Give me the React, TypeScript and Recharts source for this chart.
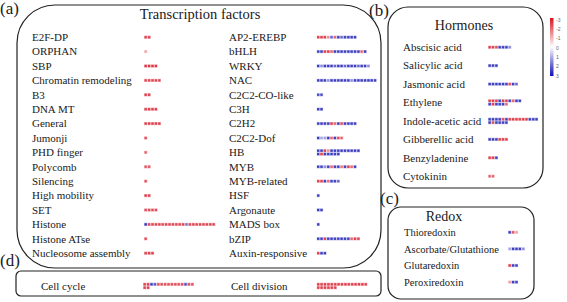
import React from 'react';
import { ScatterChart, Scatter, XAxis, YAxis } from 'recharts';

// (a) Transcription factors, left column
const tfLeftNames = [
  'E2F-DP', 'ORPHAN', 'SBP', 'Chromatin remodeling', 'B3', 'DNA MT', 'General', 'Jumonji',
  'PHD finger', 'Polycomb', 'Silencing', 'High mobility', 'SET', 'Histone', 'Histone ATse', 'Nucleosome assembly',
];
const tfLeftValues: number[][][] = [
  [[-2.5, -2.5]],
  [[-1.2]],
  [[-2.6, -2.6, -2.6, -2.6]],
  [[-2.4, -2.4, -2.4, -2.4, -2.4]],
  [[-2.5, -2.5]],
  [[-2.5, -2.5, -2.5, -2.5]],
  [[-2.5, -2.5, -2.5, -2.5, -2.5]],
  [[-2.3]],
  [[-2]],
  [[-2.2, -2.2]],
  [[-2.2]],
  [[-2.5, -2.5]],
  [[-2.3, -2.3, -2.3, -2.3]],
  [[2.6, -2.4, -2.4, -2.4, -2.4, -2.4, -2.4, -2.4, -2.4, -2.4, -2.4, -2.4, 1.8, -2.4, -2.4, -2.4, -2.4, -2.4, -2.4, -2.4, -2.4]],
  [[-2.3]],
  [[-2.5, -2.5, -2.5]],
];

// (a) Transcription factors, right column
const tfRightNames = [
  'AP2-EREBP', 'bHLH', 'WRKY', 'NAC', 'C2C2-CO-like', 'C3H', 'C2H2', 'C2C2-Dof',
  'HB', 'MYB', 'MYB-related', 'HSF', 'Argonaute', 'MADS box', 'bZIP', 'Auxin-responsive',
];
const tfRightValues: number[][][] = [
  [[-2.5, -2.5, -2.5, -1.5, 2, -2, 2.5, 2, 2.5, 2.5, 2.5, 2.5]],
  [[2.5, 2.5, -2.5, -2.5, -2, 2.5, 2.5, 2.5, 2.5, 2.5, 2.5, 2.5, 2.5, -2, 2.5]],
  [[2.5, 1.5, 2.5, 2.5, 2.5, 2, 2.5, 2.5, 2, 2.5, 2.5, 2.5, 2, 2.5, 2.5, 1.5]],
  [[2.5, 2.5, 2.5, 1.5, 2.5, 2.5, 2.5, 2.5, 2.5, 2.5, 1.5, 2.5, 2.5, 2.5, 2.5, 2.5, 2.5, 2.5]],
  [[2.3, 2.3]],
  [[2.5, 2.5]],
  [[2.5, 2.5, 2.5, 2.5, -2.5, -2, 2.5, -2.3, 2.5, 2.5, 2.5, 2.5]],
  [[2.5, 1.2, 1.2, 2.5, -2, 2.5, -2.3, -2]],
  [[2.5, 2.5, -2.5, -1.5, 2.5, 2.5, 2.5, 2.5, 2.5, 2.5, 2.5, 2.5, 2.5], [2.5, -2.5, 2.5, 2.5, 2.5, 2.5, 2.5]],
  [[2.5, 2.5, 1.5, 2.5, -2, 2.5, 2.5, -1.8, 2.5, -2.5, -2, 2.5]],
  [[-2.5, -2.5, 2.5, -2, 2.5, 2.5, 2]],
  [[2.5]],
  [[2.5, 2.5]],
  [[2.5]],
  [[2.5, 2.5, -2.5, 2.5, 2.5, 2.5, 2.5, 2.5, 2.5, 2.5, -2, -2.5, -2.5]],
  [[-2.5, 2.5, 2.5]],
];

// (b) Hormones
const hormoneNames = [
  'Abscisic acid', 'Salicylic acid', 'Jasmonic acid', 'Ethylene',
  'Indole-acetic acid', 'Gibberellic acid', 'Benzyladenine', 'Cytokinin',
];
const hormoneValues: number[][][] = [
  [[-2.5, -2.5, -2.3, 2.5, 2.5, 2.5, 1.5]],
  [[2.5, 2.5, 2.5]],
  [[2.5, 2.5, 2.5, 2.5, 2.5, 2.5, -2.3, 2.5, 2]],
  [[-2.5, -2.5, -2.5, 2.5, -2.5, -2.5, 2.5, -2, 2.5, 2.5], [2.5, -2.5, 2.5, 2.5, 2.5, -2]],
  [[2.5, 2.5, 2.5, 2.5, -2.3, 2.5, -2.5, -2.5, -2.5, -2.5, -2.5, -2.5, 2.5, 2.5, 2.5], [2.5, -2.3, 2.5, 2.5, 2.5, 2.5]],
  [[2.5, 2.5, 2.5, -2.5, -2.5, -2.5]],
  [[-2.5, -2.5, 2.5]],
  [[-2, -2]],
];

// (c) Redox
const redoxNames = ['Thioredoxin', 'Ascorbate/Glutathione', 'Glutaredoxin', 'Peroxiredoxin'];
const redoxValues: number[][][] = [
  [[2.5, -2.2, -1.3]],
  [[1.2, 2.5, 2.5, 2.5, 1.5]],
  [[-2.5, 2.5, 2.5]],
  [[-1.3, 2.5, 2.5]],
];

// (d) Cell cycle / division
const cycleNames = ['Cell cycle'];
const cycleValues: number[][][] = [
  [[-2.5, -2.5, 2.5, 2.2, -2.3, -2.3, -2.3, -2.3, -2.3, -2.3, -2.3, -2.3, 2.3, -2.3, -2.3], [-2.5, -2.5]],
];
const divisionNames = ['Cell division'];
const divisionValues: number[][][] = [
  [[-2.5, -2.5, -2.5, -2.5, -2.5, -2.5, -2.5, -2.5, -2.5, -2.5, -2.5, -2.5, -2.5, -2.5, -2.5], [-2.5, -2.5, -2.5, -2.5, -2.5, -2.5]],
];

const colorTicks = [-3, -2, -1, 0, 1, 2, 3];

const FONT = '"Liberation Serif", "Times New Roman", serif';
const INK = '#1a1a1a';
const serif = { fontFamily: FONT };

function mix(a: number[], b: number[], t: number) {
  const c = a.map((v, i) => Math.round(v + (b[i] - v) * t));
  return `rgb(${c[0]},${c[1]},${c[2]})`;
}
const RED = [214, 24, 40];
const BLUE = [24, 24, 180];
const WHITE = [255, 255, 255];

function cellColor(v: number) {
  const t = Math.min(Math.abs(v) / 3, 1);
  return mix(WHITE, v < 0 ? RED : BLUE, t);
}
function haloColor(v: number) {
  const t = Math.min(Math.abs(v) / 3, 1) * 0.45;
  return mix(WHITE, v < 0 ? RED : BLUE, t);
}

type PanelProps = {
  names: string[];
  values: number[][][];
  left: number;
  top: number;
  labelWidth: number;
  rowGap: number;
  pitch: number;
  maxCols: number;
  fontSize: number;
};

function HeatPanel({ names, values, left, top, labelWidth, rowGap, pitch, maxCols, fontSize }: PanelProps) {
  const n = names.length;
  const sub = pitch / 2 / rowGap;
  const data: { x: number; y: number; v: number }[] = [];
  values.forEach((rows, i) => {
    rows.forEach((row, r) => {
      const off = rows.length > 1 ? (r === 0 ? -sub : sub) : 0;
      row.forEach((v, j) => data.push({ x: j, y: i + off, v }));
    });
  });
  const width = labelWidth + maxCols * pitch;
  const height = n * rowGap;

  const tick = (p: any) => (
    <text x={1} y={p.y} dy="0.35em" fontSize={fontSize} fill={INK} style={serif} textAnchor="start">
      {names[p.payload.value]}
    </text>
  );

  const shape = (p: any) => {
    const v = p.payload.v;
    return (
      <g>
        <rect x={p.cx - pitch / 2 + 0.1} y={p.cy - pitch / 2 + 0.1} width={pitch - 0.2} height={pitch - 0.2} fill={haloColor(v)} />
        <rect x={p.cx - 1.1} y={p.cy - 1.1} width={2.2} height={2.2} fill={cellColor(v)} />
      </g>
    );
  };

  return (
    <div style={{ position: 'absolute', left, top, ...serif }}>
      <ScatterChart width={width} height={height} margin={{ top: 0, right: 0, bottom: 0, left: 0 }} style={serif}>
        <XAxis type="number" dataKey="x" hide domain={[-0.5, maxCols - 0.5]} allowDataOverflow />
        <YAxis
          type="number"
          dataKey="y"
          reversed
          domain={[-0.5, n - 0.5]}
          ticks={names.map((_, i) => i)}
          interval={0}
          allowDataOverflow
          width={labelWidth}
          axisLine={false}
          tickLine={false}
          tick={tick}
        />
        <Scatter data={data} shape={shape} isAnimationActive={false} />
      </ScatterChart>
    </div>
  );
}

export default function App() {
  return (
    <div style={{ position: 'relative', width: 567, height: 302, background: '#fff', overflow: 'hidden', ...serif }}>
      <style>{'body{margin:0}'}</style>
      <svg width={567} height={302} style={{ position: 'absolute', left: 0, top: 0, ...serif }}>
        <defs>
          <linearGradient id="cbar" x1="0" y1="0" x2="0" y2="1">
            <stop offset="0" stopColor="#d7141e" />
            <stop offset="0.5" stopColor="#ffffff" />
            <stop offset="1" stopColor="#1010b4" />
          </linearGradient>
        </defs>
        {/* panel frames */}
        <rect x={17} y={5} width={364} height={263} rx={38} ry={38} fill="none" stroke="#222" strokeWidth={1.2} />
        <rect x={16} y={271} width={365} height={25} rx={5} ry={5} fill="none" stroke="#222" strokeWidth={1.2} />
        <rect x={388} y={7} width={155} height={181} rx={20} ry={20} fill="none" stroke="#222" strokeWidth={1.2} />
        <rect x={388} y={207} width={146} height={92} rx={13} ry={13} fill="none" stroke="#222" strokeWidth={1.2} />
        {/* panel letters */}
        <text x={0} y={14} fontSize={17} fill={INK} style={serif}>(a)</text>
        <text x={369} y={16} fontSize={17} fill={INK} style={serif}>(b)</text>
        <text x={380} y={204} fontSize={17} fill={INK} style={serif}>(c)</text>
        <text x={0} y={266} fontSize={17} fill={INK} style={serif}>(d)</text>
        {/* titles */}
        <text x={200} y={19} fontSize={14.5} fill={INK} textAnchor="middle" style={serif}>Transcription factors</text>
        <text x={464} y={30} fontSize={14} fill={INK} textAnchor="middle" style={serif}>Hormones</text>
        <text x={444} y={221} fontSize={14} fill={INK} textAnchor="middle" style={serif}>Redox</text>
        {/* colour scale */}
        <rect x={550} y={18} width={3.5} height={58} fill="url(#cbar)" />
        {colorTicks.map((t, i) => (
          <text key={t} x={556} y={20 + i * 9.33} dy="0.35em" fontSize={5} fill="#666" style={{ fontFamily: '"Liberation Sans", sans-serif' }}>
            {t}
          </text>
        ))}
      </svg>
      <HeatPanel names={tfLeftNames} values={tfLeftValues} left={31} top={29.8} labelWidth={113} rowGap={14.4} pitch={3.4} maxCols={22} fontSize={11} />
      <HeatPanel names={tfRightNames} values={tfRightValues} left={228} top={29.8} labelWidth={88.5} rowGap={14.4} pitch={3.35} maxCols={18} fontSize={11} />
      <HeatPanel names={hormoneNames} values={hormoneValues} left={402} top={37.8} labelWidth={86} rowGap={18.43} pitch={3.35} maxCols={15} fontSize={11} />
      <HeatPanel names={redoxNames} values={redoxValues} left={403} top={223.7} labelWidth={105} rowGap={16.6} pitch={3.4} maxCols={5} fontSize={10.5} />
      <HeatPanel names={cycleNames} values={cycleValues} left={40} top={278.5} labelWidth={103} rowGap={14} pitch={3.4} maxCols={15} fontSize={11} />
      <HeatPanel names={divisionNames} values={divisionValues} left={230} top={279} labelWidth={86.5} rowGap={14} pitch={3.4} maxCols={15} fontSize={11} />
    </div>
  );
}
